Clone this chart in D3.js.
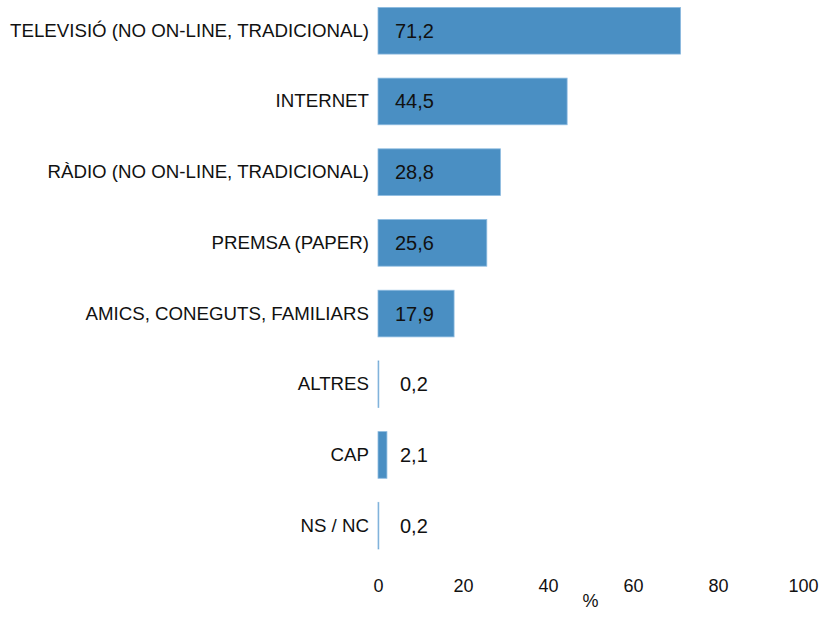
<!DOCTYPE html>
<html>
<head>
<meta charset="utf-8">
<script src="https://cdn.jsdelivr.net/npm/d3@7"></script>
<style>
	body { margin: 0; background: #fff; }
	svg { display: block; font-family: "Liberation Sans", Arial, sans-serif; }
</style>
</head>
<body>
<svg class="svgWrapper" width="827" height="618"></svg>
<script>

// data
const categories = [
	'TELEVISIÓ (NO ON-LINE, TRADICIONAL)',
	'INTERNET',
	'RÀDIO (NO ON-LINE, TRADICIONAL)',
	'PREMSA (PAPER)',
	'AMICS, CONEGUTS, FAMILIARS',
	'ALTRES',
	'CAP',
	'NS / NC'
];
const values = [71.2, 44.5, 28.8, 25.6, 17.9, 0.2, 2.1, 0.2];
const xTicks = [0, 20, 40, 60, 80, 100];

const rows = categories.map((c, i) => ({ cat: c, val: values[i] }));

const svgObj = d3.select('.svgWrapper');

const xScale = d3.scaleLinear().domain([0, 100]).range([378, 803]);
const yScale = d3.scaleBand()
	.domain(categories)
	.range([-4.6, 561])
	.paddingInner(0.34)
	.paddingOuter(0.17);

const fmt = v => d3.format('.1f')(v).replace('.', ',');

// bars
svgObj.append('g').attr('class', 'bars')
	.selectAll('rect')
	.data(rows)
	.join('rect')
	.attr('x', xScale(0))
	.attr('y', d => yScale(d.cat))
	.attr('width', d => xScale(d.val) - xScale(0))
	.attr('height', yScale.bandwidth())
	.attr('fill', '#4a8fc3')
	.attr('stroke', '#8dbbe0')
	.attr('stroke-width', 0.8);

// value labels (inside long bars, just right of the short ones)
svgObj.append('g').attr('class', 'valueLabels')
	.selectAll('text')
	.data(rows)
	.join('text')
	.attr('x', d => d.val > 10 ? xScale(0) + 17 : xScale(0) + 22)
	.attr('y', d => yScale(d.cat) + yScale.bandwidth() / 2)
	.attr('dy', '0.35em')
	.attr('font-size', 20)
	.attr('fill', '#111')
	.text(d => fmt(d.val));

// category labels
const yAxis = d3.axisLeft(yScale).tickSize(0).tickPadding(9);
const yG = svgObj.append('g')
	.attr('transform', `translate(${xScale(0)},0)`)
	.call(yAxis);
yG.select('.domain').remove();
yG.selectAll('text')
	.attr('font-size', 18.7)
	.attr('font-family', '"Liberation Sans", Arial, sans-serif')
	.attr('fill', '#111');

// x axis
const xAxis = d3.axisBottom(xScale).tickValues(xTicks).tickSize(0).tickPadding(0);
const xG = svgObj.append('g')
	.attr('transform', 'translate(0,579)')
	.call(xAxis);
xG.select('.domain').remove();
xG.selectAll('text')
	.attr('font-size', 18)
	.attr('font-family', '"Liberation Sans", Arial, sans-serif')
	.attr('fill', '#111');

svgObj.append('text')
	.attr('x', (xScale(0) + xScale(100)) / 2)
	.attr('y', 607)
	.attr('text-anchor', 'middle')
	.attr('font-size', 18)
	.attr('fill', '#111')
	.text('%');

</script>
</body>
</html>
